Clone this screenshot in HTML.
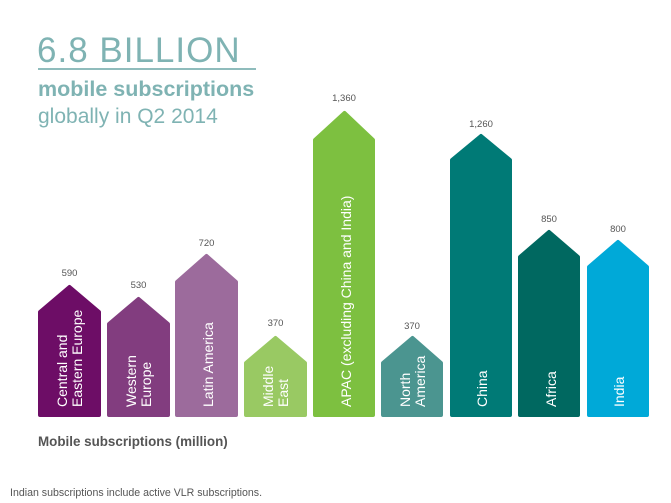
<!DOCTYPE html>
<html><head><meta charset="utf-8"><style>
html,body{margin:0;padding:0;background:#fff;}
svg{display:block;font-family:"Liberation Sans",sans-serif;}
</style></head><body>
<svg width="671" height="503" viewBox="0 0 671 503" xmlns="http://www.w3.org/2000/svg">
<text x="37" y="62" font-size="35" fill="#7fb3b3" letter-spacing="1">6.8 BILLION</text>
<rect x="38" y="68" width="218" height="2" fill="#8fbcbc"/>
<text x="38" y="96" font-size="21.5" font-weight="bold" fill="#7fb3b3">mobile subscriptions</text>
<text x="38" y="123" font-size="21" fill="#7fb3b3">globally in Q2 2014</text>
<g stroke-linejoin="round" stroke-width="4">
<polygon points="40,415 40,312 69.5,287 99,312 99,415" fill="#6d0d66" stroke="#6d0d66"/>
<polygon points="109,415 109,324 138.5,299 168,324 168,415" fill="#823d7f" stroke="#823d7f"/>
<polygon points="177,415 177,282 206.5,256 236,282 236,415" fill="#9c6b9c" stroke="#9c6b9c"/>
<polygon points="246,415 246,363 275.5,338 305,363 305,415" fill="#99c963" stroke="#99c963"/>
<polygon points="315,415 315,140 344.5,113 373,140 373,415" fill="#7dc040" stroke="#7dc040"/>
<polygon points="383,415 383,363 412.5,338 441,363 441,415" fill="#4b9590" stroke="#4b9590"/>
<polygon points="452,415 452,160 481,136 510,160 510,415" fill="#007a76" stroke="#007a76"/>
<polygon points="520,415 520,257 549,232 578,257 578,415" fill="#006860" stroke="#006860"/>
<polygon points="589,415 589,267 618,242 647,267 647,415" fill="#00a9d8" stroke="#00a9d8"/>
</g>
<g font-size="9.5" fill="#555" text-anchor="middle">
<text x="69.5" y="276">590</text>
<text x="138.5" y="288">530</text>
<text x="206.5" y="246">720</text>
<text x="275.5" y="326">370</text>
<text x="344" y="101">1,360</text>
<text x="412" y="329">370</text>
<text x="481" y="127">1,260</text>
<text x="549" y="222">850</text>
<text x="618" y="232">800</text>
</g>
<g font-size="14" fill="#fff">
<text transform="translate(67,407) rotate(-90)">Central and</text>
<text transform="translate(82,407) rotate(-90)">Eastern Europe</text>
<text transform="translate(136,407) rotate(-90)">Western</text>
<text transform="translate(151,407) rotate(-90)">Europe</text>
<text transform="translate(213,407) rotate(-90)">Latin America</text>
<text transform="translate(273,407) rotate(-90)">Middle</text>
<text transform="translate(288,407) rotate(-90)">East</text>
<text transform="translate(351,407) rotate(-90)">APAC (excluding China and India)</text>
<text transform="translate(410,407) rotate(-90)">North</text>
<text transform="translate(425,407) rotate(-90)">America</text>
<text transform="translate(487,407) rotate(-90)">China</text>
<text transform="translate(556,407) rotate(-90)">Africa</text>
<text transform="translate(624,407) rotate(-90)">India</text>
</g>
<text x="38" y="446" font-size="13.4" font-weight="bold" fill="#555">Mobile subscriptions (million)</text>
<text x="10" y="496" font-size="10.6" fill="#555">Indian subscriptions include active VLR subscriptions.</text>
</svg>
</body></html>
